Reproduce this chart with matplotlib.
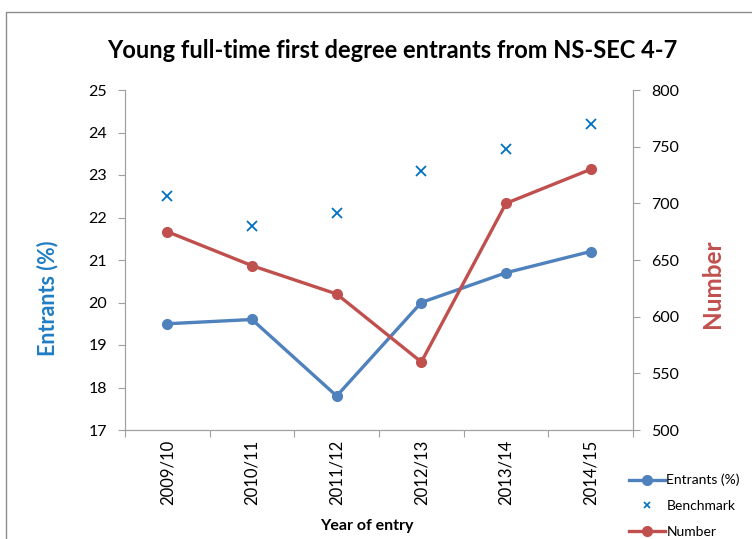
import matplotlib
matplotlib.use("Agg")
import matplotlib.pyplot as plt
from matplotlib.patches import Rectangle
from matplotlib.lines import Line2D

plt.rcParams['font.family'] = ['Lato', 'DejaVu Sans']

years = ["2009/10", "2010/11", "2011/12", "2012/13", "2013/14", "2014/15"]
entrants = [19.5, 19.6, 17.8, 20.0, 20.7, 21.2]
benchmark = [22.5, 21.8, 22.1, 23.1, 23.6, 24.2]
number = [675, 645, 620, 560, 700, 730]

blue = "#4F81BD"
red = "#C0504D"
bench_col = "#0070C0"
grey = "#A0A0A0"

fig = plt.figure(figsize=(7.52, 5.39), dpi=100)
fig.patches.append(Rectangle((6 / 752, -0.1), 1.2, (539 - 12) / 539 + 0.1,
                             transform=fig.transFigure, fill=False,
                             edgecolor="#8C8C8C", lw=1.0))

ax = fig.add_axes([125 / 752, 109 / 539, 508 / 752, 340 / 539])
ax2 = ax.twinx()

x = list(range(len(years)))
ax.plot(x, entrants, color=blue, lw=2.4, marker="o", ms=7, zorder=3)
ax.plot(x, benchmark, ls="none", marker="x", color=bench_col, ms=7, mew=1.3, zorder=3)
ax2.plot(x, number, color=red, lw=2.4, marker="o", ms=7, zorder=3)

ax.set_xlim(-0.5, 5.5)
ax.set_ylim(17, 25)
ax2.set_ylim(500, 800)
ax.set_yticks(range(17, 26))
ax2.set_yticks(range(500, 801, 50))

ax.set_xticks([i - 0.5 for i in range(len(years) + 1)])
ax.set_xticklabels([])
ax.set_xticks(x, minor=True)
ax.set_xticklabels(years, minor=True, rotation=90, fontsize=12)
ax.tick_params(axis="x", which="minor", length=0, pad=7)
ax.tick_params(axis="x", which="major", length=5, color=grey)

for a in (ax, ax2):
    a.spines["top"].set_visible(False)
    for s in ("left", "right", "bottom"):
        a.spines[s].set_color(grey)
ax.tick_params(axis="y", length=5, color=grey, labelsize=11.5, pad=8)
ax2.tick_params(axis="y", length=5, color=grey, labelsize=11.5, pad=8)

ax.set_xlabel("Year of entry", fontsize=11.5, fontweight="bold")
ax.xaxis.set_label_coords(0.476, -0.262)
ax.set_ylabel("Entrants (%)", fontsize=15.5, fontweight="bold", color="#1F7DC4")
ax.yaxis.set_label_coords(-0.131, 0.388)
ax2.set_ylabel("Number", fontsize=17.5, fontweight="bold", color=red)
ax2.yaxis.set_label_coords(1.134, 0.43)

fig.text(392 / 752, 1 - 50 / 539, "Young full-time first degree entrants from NS-SEC 4-7",
         ha="center", va="center", fontsize=17, fontweight="bold")

handles = [
    Line2D([], [], color=blue, lw=2.4, marker="o", ms=7),
    Line2D([], [], ls="none", color=bench_col, marker="x", ms=5, mew=1.2),
    Line2D([], [], color=red, lw=2.4, marker="o", ms=7),
]
fig.legend(handles, ["Entrants (%)", "Benchmark", "Number"],
           loc="center left", bbox_to_anchor=(622 / 752, 1 - 506 / 539),
           frameon=False, fontsize=10, handlelength=2.6, handletextpad=0.1,
           labelspacing=1.0, borderpad=0)

fig.savefig("out.png", dpi=100)
